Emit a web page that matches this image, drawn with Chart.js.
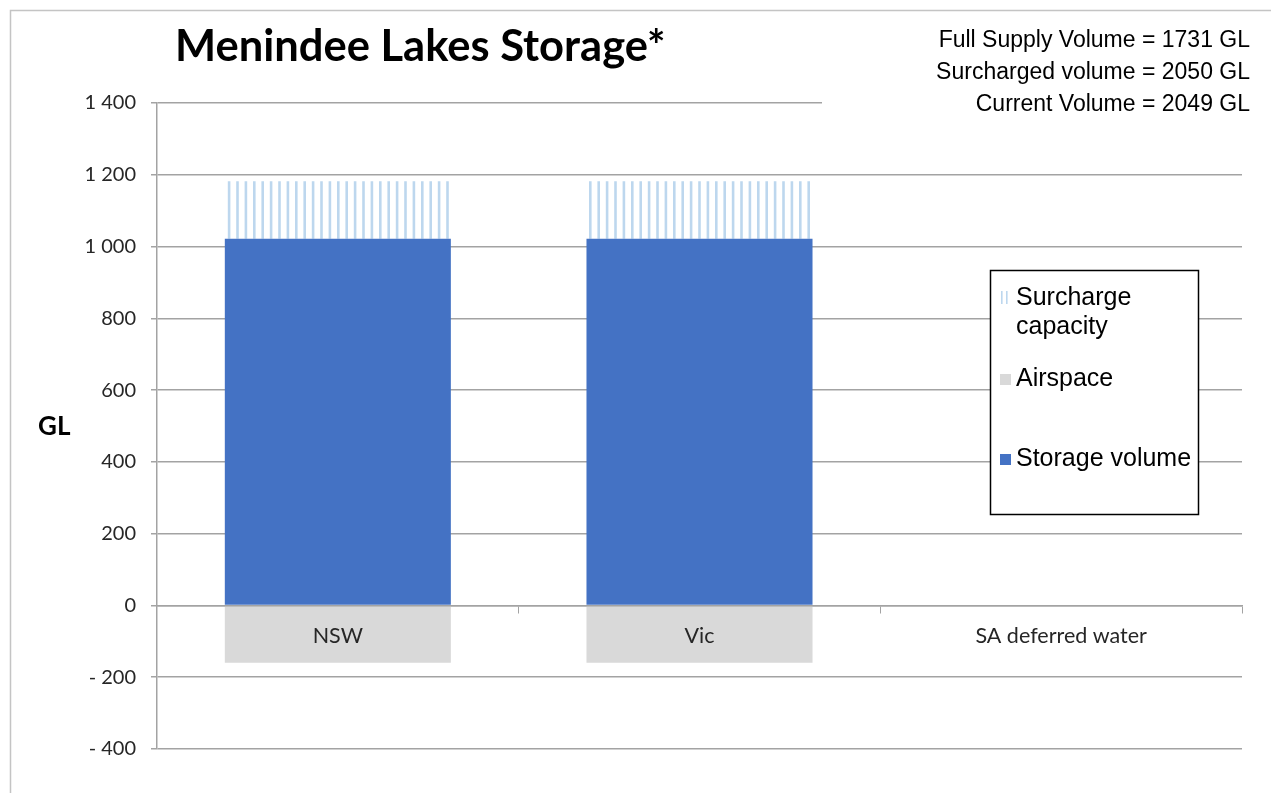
<!DOCTYPE html>
<html>
<head>
<meta charset="utf-8">
<script src="https://cdn.jsdelivr.net/npm/chart.js@4"></script>
<style>
  html, body { margin: 0; padding: 0; background: #fff; }
  #wrap { width: 1271px; height: 793px; position: relative; }
</style>
</head>
<body>
<div id="wrap"><canvas id="storageChart"></canvas></div>
<script>
// Chart data
const categories = ['NSW', 'Vic', 'SA deferred water'];
const storageVolume = [1022, 1022, null];
const surchargeCapacity = [160, 160, null];
const airspace = [-160, -160, null];
const yTicks = [-400, -200, 0, 200, 400, 600, 800, 1000, 1200, 1400];
const infoLines = [
    'Full Supply Volume = 1731 GL',
    'Surcharged volume = 2050 GL',
    'Current Volume = 2049 GL'
];

const STRIPE = '#bdd7ee';
const GRID = '#a3a3a3';

// vertical stripes for the surcharge block
const makeStripes = ctx => {
    const c = document.createElement('canvas');
    c.width = 42;
    c.height = 4;
    const g = c.getContext('2d');
    g.fillStyle = STRIPE;
    for (let i = 0; i < 5; i++) g.fillRect(i * 8.4 + 1, 0, 2.6, 4);
    return ctx.createPattern(c, 'repeat');
};

const fmtTick = v => {
    const s = Math.abs(v).toString().replace(/\B(?=(\d{3})+(?!\d))/g, ' ');
    return v < 0 ? '- ' + s : s;
};

// frame, title, "GL", info text and the boxed legend
const decorations = {
    id: 'decorations',
    beforeDraw(chart) {
        const ctx = chart.ctx;
        ctx.save();
        ctx.strokeStyle = '#c4c4c4';
        ctx.lineWidth = 1.5;
        ctx.strokeRect(10.5, 10.5, 1300, 900);
        ctx.restore();
    },
    afterDraw(chart) {
        const ctx = chart.ctx;
        const area = chart.chartArea;
        ctx.save();

        // info box covers the top gridline on the right
        ctx.fillStyle = '#fff';
        ctx.fillRect(822, 14, 440, 104);
        ctx.fillStyle = '#000';
        ctx.font = '23px "Liberation Sans", Arial';
        ctx.textAlign = 'right';
        ctx.textBaseline = 'middle';
        infoLines.forEach((t, i) => ctx.fillText(t, 1250, 41 + i * 32));

        // title
        ctx.textAlign = 'left';
        ctx.font = 'bold 43.5px Lato';
        ctx.fillText('Menindee Lakes Storage*', 175, 47);

        // axis title
        ctx.font = 'bold 26px Lato';
        ctx.fillText('GL', 38, (area.top + area.bottom) / 2 + 1);

        // legend
        const lx = 990, ly = 270, lw = 208, lh = 244;
        ctx.fillStyle = '#fff';
        ctx.fillRect(lx, ly, lw, lh);
        ctx.strokeStyle = '#000';
        ctx.lineWidth = 1.5;
        ctx.strokeRect(lx + 0.5, ly + 0.5, lw, lh);

        const items = chart.data.datasets.slice().reverse();
        const rows = [298, 379, 459];
        ctx.font = '25px "Liberation Sans", Arial';
        ctx.textBaseline = 'middle';
        items.forEach((ds, i) => {
            const y = rows[i];
            if (ds.label === 'Surcharge capacity') {
                ctx.fillStyle = STRIPE;
                ctx.fillRect(1001, y - 7, 1.6, 13);
                ctx.fillRect(1006, y - 7, 1.6, 13);
            } else {
                ctx.fillStyle = ds.backgroundColor;
                ctx.fillRect(1000, y - 5, 11, 11);
            }
            ctx.fillStyle = '#000';
            const lines = ds.label === 'Surcharge capacity' ? ['Surcharge', 'capacity'] : [ds.label];
            lines.forEach((t, j) => ctx.fillText(t, 1016, y + j * 29));
        });
        ctx.restore();
    }
};

Chart.defaults.font.family = 'Lato';
Chart.defaults.color = '#262626';

const initStorageChart = () => {
    const ctx = document.getElementById('storageChart').getContext('2d');
    return new Chart(ctx, {
        type: 'bar',
        data: {
            labels: categories,
            datasets: [{
                label: 'Storage volume',
                data: storageVolume,
                backgroundColor: '#4472c4',
                borderWidth: 0
            }, {
                label: 'Airspace',
                data: airspace,
                backgroundColor: '#d9d9d9',
                borderWidth: 0
            }, {
                label: 'Surcharge capacity',
                data: surchargeCapacity,
                backgroundColor: makeStripes(ctx),
                borderWidth: 0
            }]
        },
        options: {
            responsive: true,
            maintainAspectRatio: false,
            animation: false,
            categoryPercentage: 1,
            barPercentage: 0.625,
            layout: {
                padding: { left: 0, right: 29, top: 103, bottom: 44 }
            },
            scales: {
                x: {
                    stacked: true,
                    position: { y: 0 },
                    grid: {
                        drawOnChartArea: false,
                        color: GRID,
                        tickLength: 7,
                        offset: true,
                        z: 1
                    },
                    border: { color: GRID, width: 1.5, z: 1 },
                    ticks: {
                        padding: 11,
                        color: '#262626',
                        font: { size: 21.5 },
                        z: 1
                    }
                },
                y: {
                    stacked: true,
                    min: -400,
                    max: 1400,
                    afterBuildTicks: scale => {
                        scale.ticks = yTicks.map(v => ({ value: v }));
                    },
                    afterFit: scale => { scale.width = 157; },
                    grid: { color: GRID, lineWidth: 1.5, tickLength: 6 },
                    border: { color: GRID, width: 1.5 },
                    ticks: {
                        padding: 15,
                        callback: v => fmtTick(v),
                        font: { size: 20 }
                    }
                }
            },
            plugins: {
                legend: { display: false },
                tooltip: { enabled: false }
            }
        },
        plugins: [decorations]
    });
};

document.addEventListener('DOMContentLoaded', initStorageChart);
</script>
</body>
</html>
